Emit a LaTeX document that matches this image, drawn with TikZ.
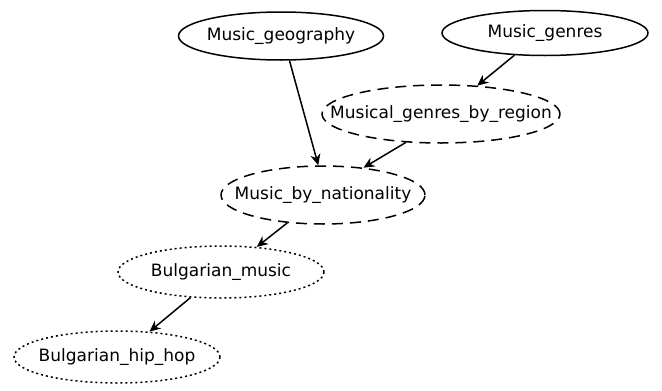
\documentclass[tikz,border=0pt]{standalone}
\usepackage{fontspec}
\setmainfont{DejaVu Sans}
\usetikzlibrary{shapes.geometric,arrows.meta}
\newcommand{\catname}[1]{\makebox[0pt]{#1}}
\begin{document}
\begin{tikzpicture}[
  x=1pt, y=-1pt,
  every node/.style = {shape=ellipse, draw, line width=1.5pt,
    inner sep=0pt, font=\fontsize{17}{20}\selectfont},
  catnode/.style = {minimum width=#1, minimum height=48pt},
  dashnode/.style = {dash pattern=on 11pt off 7pt},
  dotnode/.style = {dash pattern=on 2pt off 3pt},
  link/.style = {line width=1.5pt, -{Stealth[length=11pt,width=10pt]}}
  ]
  \useasboundingbox (0,0) rectangle (662,391);
  % top row
  \node[catnode=205pt] (geo) at (281,36) {\catname{Music\_geography}};
  \node[catnode=206pt, minimum height=45pt] (genres) at (545,33) {\catname{Music\_genres}};
  % dashed ones
  \node[catnode=238pt, minimum height=58pt, dashnode] (region) at (441,114) {\catname{Musical\_genres\_by\_region}};
  \node[catnode=204pt, minimum height=58pt, dashnode] (nation) at (323,195) {\catname{Music\_by\_nationality}};
  % dotted ones
  \node[catnode=206pt, minimum height=52pt, dotnode] (bgmusic) at (221,272) {\catname{Bulgarian\_music}};
  \node[catnode=206pt, minimum height=52pt, dotnode] (hiphop) at (117,357) {\catname{Bulgarian\_hip\_hop}};
  % links
  \draw[link] (geo.-71) -- (nation.99);
  \draw[link] (genres.216) -- (region.38);
  \draw[link] (region.219) -- (nation.34);
  \draw[link] (nation.218) -- (bgmusic.35);
  \draw[link] (bgmusic.220) -- (hiphop.38);
\end{tikzpicture}
\end{document}
